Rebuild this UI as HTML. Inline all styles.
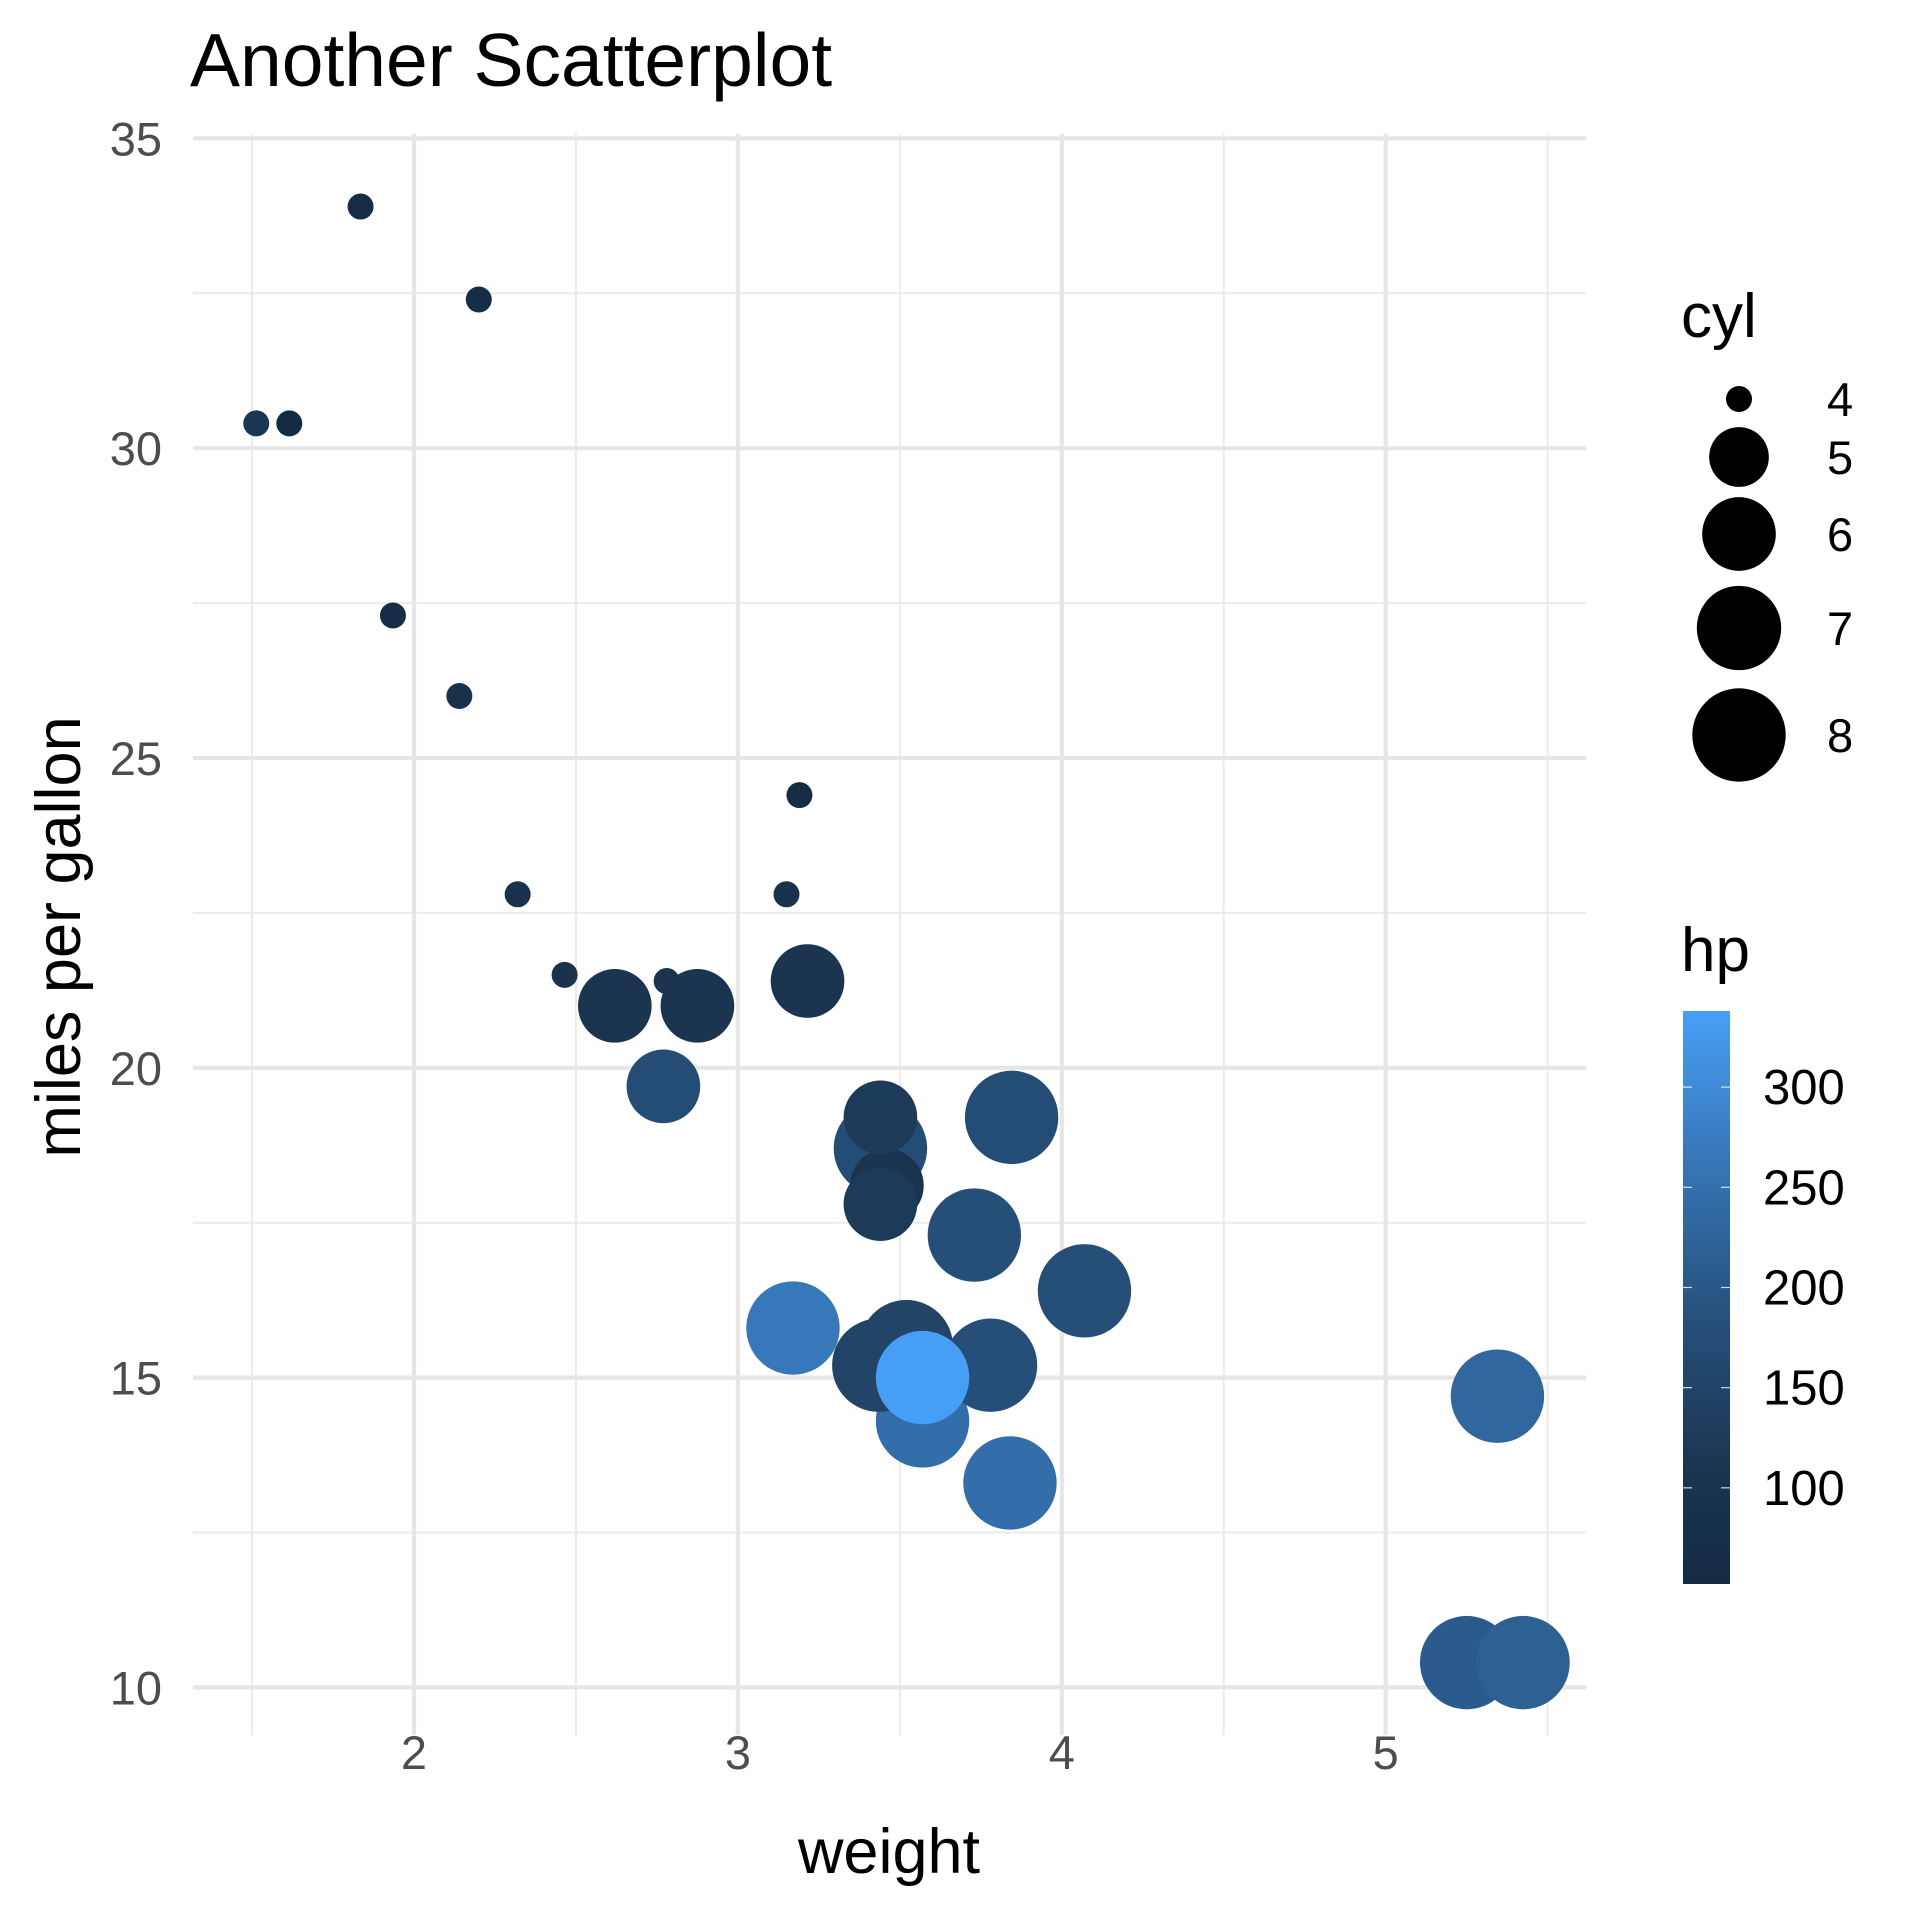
<!DOCTYPE html>
<html><head><meta charset="utf-8"><style>
html,body{margin:0;padding:0;background:#fff;}
svg{display:block;font-family:"Liberation Sans",Arial,sans-serif;}
</style></head><body>
<svg id="chart" width="1920" height="1920" viewBox="0 0 1920 1920" xmlns="http://www.w3.org/2000/svg">
<text x="190" y="86" font-size="75" fill="#000">Another Scatterplot</text>
<g id="grid"></g>
<g id="points"></g>
<g id="axes"></g>
<g id="legend"></g>
</svg>
<script>
const weights=[2.620,2.875,2.320,3.215,3.440,3.460,3.570,3.190,3.150,3.440,3.440,4.070,3.730,3.780,5.250,5.424,5.345,2.200,1.615,1.835,2.465,3.520,3.435,3.840,3.845,1.935,2.140,1.513,3.170,2.770,3.570,2.780];
const mpgs=[21.0,21.0,22.8,21.4,18.7,18.1,14.3,24.4,22.8,19.2,17.8,16.4,17.3,15.2,10.4,10.4,14.7,32.4,30.4,33.9,21.5,15.5,15.2,13.3,19.2,27.3,26.0,30.4,15.8,19.7,15.0,21.4];
const cyls=[6,6,4,6,8,6,8,4,4,6,6,8,8,8,8,8,8,4,4,4,4,8,8,8,8,4,4,4,8,6,8,4];
const hps=[110,110,93,110,175,105,245,62,95,123,123,180,180,180,205,215,230,66,52,65,97,150,150,245,175,66,91,113,264,175,335,109];
const xTicks=[2,3,4,5];
const yTicks=[10,15,20,25,30,35];
const cylLegend=[4,5,6,7,8];
const hpTicks=[100,150,200,250,300];

const NS="http://www.w3.org/2000/svg";
function mk(tag,attrs,parent){const e=document.createElementNS(NS,tag);for(const k in attrs)e.setAttribute(k,attrs[k]);parent.appendChild(e);return e;}
const X=v=>414+(v-2)*323.9;
const Y=v=>1687.4-(v-10)*61.96;
const px0=X(1.3175),px1=X(5.6195),py0=Y(35.075),py1=Y(9.225);
const cylMin=Math.min(...cyls),cylMax=Math.max(...cyls);
const sizeOf=c=>1+5*Math.sqrt((c-cylMin)/(cylMax-cylMin));
const R=c=>6.26+6.74*sizeOf(c);
const hpMin=Math.min(...hps),hpMax=Math.max(...hps);
// colour ramp (fraction of hp range -> rgb)
const rampT=[0,0.205,0.435,0.682,1];
const rampC=[[19,43,67],[27,53,81],[36,77,117],[51,110,170],[71,159,245]];
function col(h){const t=Math.max(0,Math.min(1,(h-hpMin)/(hpMax-hpMin)));
let i=0;while(i<rampT.length-2&&t>rampT[i+1])i++;
const f=(t-rampT[i])/(rampT[i+1]-rampT[i]);
const c=rampC[i].map((a,k)=>Math.round(a+(rampC[i+1][k]-a)*f));
return `rgb(${c[0]},${c[1]},${c[2]})`;}

const grid=document.getElementById('grid');
for(let i=0;i<xTicks.length+1;i++){const v=xTicks[0]-0.5+i;const l=mk('line',{x1:X(v),x2:X(v),y1:py0,y2:py1,stroke:'#EBEBEB','stroke-width':2},grid);

}
for(let i=0;i<yTicks.length-1;i++){const v=yTicks[i]+2.5;const l=mk('line',{x1:px0,x2:px1,y1:Y(v),y2:Y(v),stroke:'#EBEBEB','stroke-width':2},grid);

}
xTicks.forEach(v=>{const l=mk('line',{x1:X(v),x2:X(v),y1:py0,y2:py1,stroke:'#E6E6E6','stroke-width':4.2},grid);

});
yTicks.forEach(v=>{const l=mk('line',{x1:px0,x2:px1,y1:Y(v),y2:Y(v),stroke:'#E6E6E6','stroke-width':4.2},grid);

});

const pts=document.getElementById('points');
weights.forEach((w,i)=>{const c=mk('circle',{cx:X(w),cy:Y(mpgs[i]),r:R(cyls[i]),fill:col(hps[i])},pts);

});

const axes=document.getElementById('axes');
xTicks.forEach(v=>{const t=mk('text',{x:X(v),y:1769,'font-size':47,fill:'#4D4D4D','text-anchor':'middle'},axes);t.textContent=v;

});
yTicks.forEach(v=>{const t=mk('text',{x:162,y:Y(v)+17,'font-size':47,fill:'#4D4D4D','text-anchor':'end'},axes);t.textContent=v;

});
let t=mk('text',{x:889,y:1873,'font-size':63,fill:'#000','text-anchor':'middle'},axes);t.textContent='weight';


t=mk('text',{x:0,y:0,'font-size':63,fill:'#000','text-anchor':'middle',transform:'translate(80,937) rotate(-90)'},axes);t.textContent='miles per gallon';



const leg=document.getElementById('legend');
t=mk('text',{x:1681,y:337,'font-size':62,fill:'#000'},leg);t.textContent='cyl';


const legY=[399,457,534,628,735];
cylLegend.forEach((c,i)=>{const k=mk('circle',{cx:1739,cy:legY[i],r:R(c),fill:'#000'},leg);


const l=mk('text',{x:1827,y:legY[i]+17,'font-size':47,fill:'#000'},leg);l.textContent=c;

});
t=mk('text',{x:1681,y:971,'font-size':62,fill:'#000'},leg);t.textContent='hp';


const bx0=1683,bx1=1730,by0=1011,by1=1584;
const defs=mk('defs',{},leg);
const g=mk('linearGradient',{id:'hpgrad',x1:0,y1:1,x2:0,y2:0},defs);
for(let i=0;i<=20;i++){mk('stop',{offset:i/20,'stop-color':col(hpMin+(hpMax-hpMin)*i/20)},g);}
const bar=mk('rect',{x:bx0,y:by0,width:bx1-bx0,height:by1-by0,fill:'url(#hpgrad)'},leg);


const HY=h=>by1-(h-hpMin)/(hpMax-hpMin)*(by1-by0-6);
hpTicks.forEach(h=>{
mk('line',{x1:bx0,x2:bx0+9,y1:HY(h),y2:HY(h),stroke:'#fff','stroke-width':1.2,opacity:0.8},leg);
mk('line',{x1:bx1-9,x2:bx1,y1:HY(h),y2:HY(h),stroke:'#fff','stroke-width':1.2,opacity:0.8},leg);
const l=mk('text',{x:1763,y:HY(h)+17,'font-size':49,fill:'#000'},leg);l.textContent=h;

});
</script>
</body></html>
